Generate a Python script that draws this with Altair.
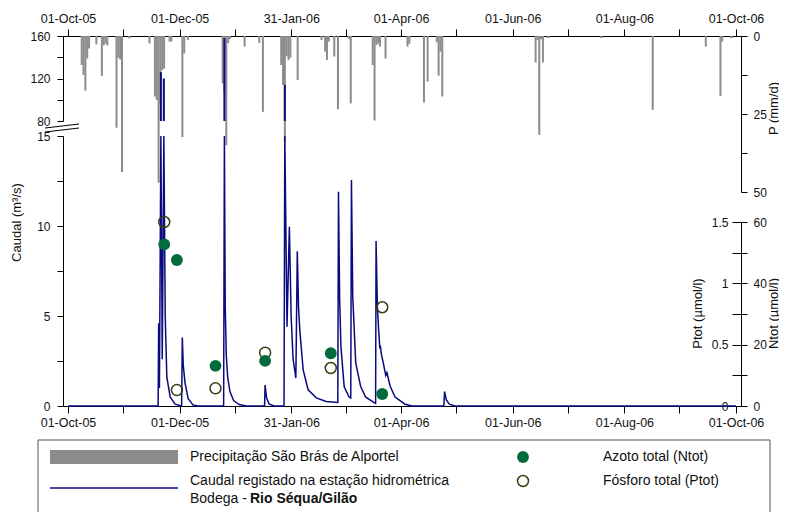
import altair as alt
import pandas as pd

FONT = "Liberation Sans"
W, H = 678, 370
GRAY = "#8c8c8c"
NAVY = "#0a0a80"
GREEN = "#006b3c"
OLIVE = "#3a3a10"

# ---------------- data ----------------
precip_dates = [
    "2005-10-08", "2005-10-09", "2005-10-10", "2005-10-11", "2005-10-12", "2005-10-16",
    "2005-10-19", "2005-10-20", "2005-10-21", "2005-10-22", "2005-10-27", "2005-10-28",
    "2005-10-29", "2005-10-30", "2005-11-03", "2005-11-14", "2005-11-17", "2005-11-18",
    "2005-11-19", "2005-11-20", "2005-11-21", "2005-11-22", "2005-11-25", "2005-11-26",
    "2005-12-02", "2005-12-03", "2005-12-05", "2005-12-24", "2005-12-25", "2005-12-26",
    "2005-12-27", "2005-12-28", "2006-01-05", "2006-01-13", "2006-01-15", "2006-01-25",
    "2006-01-26", "2006-01-27", "2006-01-28", "2006-01-29", "2006-01-30", "2006-02-03",
    "2006-02-16", "2006-02-18", "2006-02-19", "2006-02-20", "2006-02-23", "2006-02-25",
    "2006-03-03", "2006-03-04", "2006-03-16", "2006-03-17", "2006-03-18", "2006-03-19",
    "2006-03-20", "2006-03-23", "2006-04-04", "2006-04-05", "2006-04-13", "2006-04-15",
    "2006-04-20", "2006-04-21", "2006-04-22", "2006-04-23", "2006-06-13", "2006-06-14",
    "2006-06-15", "2006-06-16", "2006-06-17", "2006-06-20", "2006-07-19", "2006-08-16",
    "2006-09-14", "2006-09-22", "2006-09-23", "2006-09-28",
]
precip_mm = [
    9.3, 12.5, 17.5, 7.2, 4.0, 2.7,
    12.8, 3.0, 2.5, 3.0, 29.4, 7.0,
    7.5, 43.6, 0.8, 2.4, 19.4, 20.5,
    47.0, 21.6, 10.9, 10.4, 1.8, 1.8,
    32.4, 5.6, 1.3, 15.2, 18.2, 35.0,
    2.3, 1.0, 3.4, 2.2, 24.3, 9.3,
    15.7, 34.0, 6.5, 7.7, 7.0, 14.1,
    1.3, 5.0, 7.7, 1.8, 6.6, 23.5,
    1.0, 21.6, 9.3, 27.1, 2.9, 2.4,
    3.4, 7.2, 3.4, 2.5, 21.3, 14.6,
    2.0, 12.7, 5.0, 19.4, 8.5, 1.3,
    31.7, 1.0, 8.5, 0.7, 0.7, 23.7,
    3.4, 19.2, 1.8, 0.7,
]

flow_times = [
    "2005-10-01T00:00", "2005-11-19T06:00", "2005-11-19T13:00", "2005-11-19T23:00",
    "2005-11-20T18:00", "2005-11-21T12:00", "2005-11-22T09:00", "2005-11-23T03:00",
    "2005-11-24T00:00", "2005-11-25T20:00", "2005-11-28T12:00", "2005-12-02T02:00",
    "2005-12-02T11:00", "2005-12-02T23:00", "2005-12-03T22:00", "2005-12-05T16:00",
    "2005-12-08T09:00", "2005-12-11T00:00", "2005-12-25T01:00", "2005-12-25T11:00",
    "2005-12-25T22:00", "2005-12-26T12:00", "2005-12-27T06:00", "2005-12-28T12:00",
    "2005-12-30T12:00", "2006-01-02T12:00", "2006-01-06T12:00", "2006-01-16T10:00",
    "2006-01-16T16:00", "2006-01-17T12:00", "2006-01-18T20:00", "2006-01-21T12:00",
    "2006-01-27T01:00", "2006-01-27T11:00", "2006-01-28T16:00", "2006-01-29T23:00",
    "2006-01-30T22:00", "2006-02-01T00:00", "2006-02-02T12:00", "2006-02-03T07:00",
    "2006-02-03T23:00", "2006-02-04T16:00", "2006-02-06T12:00", "2006-02-09T05:00",
    "2006-02-13T16:00", "2006-02-19T01:00", "2006-02-25T10:00", "2006-02-25T19:00",
    "2006-02-26T10:00", "2006-02-27T03:00", "2006-02-28T22:00", "2006-03-03T14:00",
    "2006-03-04T12:00", "2006-03-04T21:00", "2006-03-05T14:00", "2006-03-07T05:00",
    "2006-03-09T21:00", "2006-03-12T14:00", "2006-03-17T01:00", "2006-03-18T02:00",
    "2006-03-18T08:00", "2006-03-19T01:00", "2006-03-19T18:00", "2006-03-20T09:00",
    "2006-03-20T16:00", "2006-03-21T05:00", "2006-03-22T11:00", "2006-03-23T15:00",
    "2006-03-24T06:00", "2006-03-26T01:00", "2006-03-28T17:00", "2006-04-03T03:00",
    "2006-04-06T21:00", "2006-04-24T09:00", "2006-04-24T18:00", "2006-04-25T17:00",
    "2006-04-27T08:00", "2006-04-30T12:00", "2006-10-01T00:00",
]
flow_m3s = [
    0.0, 0.0, 4.6, 1.0,
    126.0, 2.6, 120.0, 5.0,
    1.6, 0.5, 0.1, 0.0,
    3.8, 2.3, 1.3, 0.4,
    0.05, 0.0, 0.0, 158.0,
    5.5, 2.8, 1.6, 0.8,
    0.3, 0.08, 0.0, 0.0,
    1.17, 0.45, 0.12, 0.0,
    0.0, 114.0, 4.4, 9.96,
    5.0, 2.6, 1.55, 8.6,
    5.5, 4.2, 2.0, 0.9,
    0.45, 0.25, 0.2, 11.9,
    6.0, 3.3, 1.07, 0.5,
    0.45, 12.55, 6.1, 2.4,
    1.1, 0.5, 0.2, 0.15,
    9.17, 5.5, 4.2, 3.2,
    3.35, 2.9, 2.3, 1.7,
    1.85, 1.1, 0.5, 0.1,
    0.0, 0.0, 0.8, 0.35,
    0.1, 0.0, 0.0,
]

sample_times = ["2005-11-22T14:00", "2005-11-29T12:00", "2005-12-20T14:00",
                "2006-01-16T17:00", "2006-02-21T14:00", "2006-03-21T17:00"]
ntot_umol = [52.7, 47.6, 13.1, 14.7, 17.2, 3.9]
ptot_umol = [1.50, 0.13, 0.144, 0.435, 0.31, 0.805]

tick_dates = ["2005-10-01", "2005-10-31", "2005-12-01", "2005-12-31", "2006-01-31",
              "2006-03-02", "2006-04-01", "2006-05-01", "2006-06-01", "2006-07-01",
              "2006-08-01", "2006-08-31", "2006-10-01"]
tick_labels = ["01-Oct-05", "01-Dec-05", "31-Jan-06", "01-Apr-06",
               "01-Jun-06", "01-Aug-06", "01-Oct-06"]

legend_texts = ["Precipitação São Brás de Alportel",
                "Caudal registado na estação hidrométrica",
                "Bodega -", "Rio Séqua/Gilão",
                "Azoto total (Ntot)", "Fósforo total (Ptot)"]


def dt(s):
    y, m, d = (int(v) for v in s.split("-"))
    return alt.DateTime(year=y, month=m, date=d)


pdf = pd.DataFrame({"t": [d + "T12:00" for d in precip_dates], "p": precip_mm})
qdf = pd.DataFrame({"t": flow_times, "q": flow_m3s})
sdf = pd.DataFrame({"t": sample_times, "n": ntot_umol, "p": ptot_umol})
one = pd.DataFrame({"k": [0]})

xs = alt.Scale(domain=[dt(tick_dates[0]), dt(tick_dates[-1])], nice=False)
arr = "[" + ",".join("'%s'" % l for l in tick_labels) + "]"
lx = ("indexof(%s, timeFormat(datum.value, '%%d-%%b-%%y')) >= 0 ? "
      "timeFormat(datum.value, '%%d-%%b-%%y') : ''") % arr
xkw = dict(values=[dt(s) for s in tick_dates], labelExpr=lx, tickSize=7,
           labelFlush=False, labelOverlap=False, labelAlign="center", labelBound=False,
           title=None, grid=False, labelFontSize=12.5)
top_axis = alt.Axis(orient="top", labelPadding=4, **xkw)
bot_axis = alt.Axis(orient="bottom", labelPadding=3, **xkw)


def X(axis=None):
    return alt.X("t:T", scale=xs, axis=axis, title=None)


title_kw = dict(titleAngle=270, titleBaseline="middle", titleAlign="center",
                titleFontSize=13, titleFontWeight="normal")

# precipitation (hanging bars)
p_axis = alt.Axis(orient="right", values=[0, 12.5, 25, 37.5, 50],
                  labelExpr="datum.value % 25 == 0 ? toString(datum.value) : ''",
                  tickSize=6, labelPadding=6, labelOverlap=False, grid=False,
                  title="P (mm/d)", titleX=32, titleY=72, **title_kw)
bars = alt.Chart(pdf).mark_bar(color=GRAY, width=2).encode(
    x=X(top_axis),
    y=alt.Y("p:Q", scale=alt.Scale(domain=[0, 50], range=[0, 156], nice=False, zero=False),
            axis=p_axis),
)

# flow - upper (broken) part
up_axis = alt.Axis(orient="left", values=[80, 100, 120, 140, 160],
                   labelExpr="datum.value % 40 == 0 ? toString(datum.value) : ''",
                   tickSize=6, labelPadding=7, labelOverlap=False, grid=False, title=None)
upper = alt.Chart(qdf).transform_filter("datum.q > 80").transform_calculate(lo="80").mark_rule(
    color=NAVY, strokeWidth=2).encode(
    x=X(),
    y=alt.Y("q:Q", scale=alt.Scale(domain=[80, 160], range=[85, 0], nice=False, zero=False),
            axis=up_axis),
    y2="lo:Q",
)

# flow - lower part
lo_axis = alt.Axis(orient="left", values=[0, 2.5, 5, 7.5, 10, 12.5, 15],
                   labelExpr="datum.value % 5 == 0 ? toString(datum.value) : ''",
                   tickSize=6, labelPadding=7, labelOverlap=False, grid=False,
                   title="Caudal (m³/s)", titleX=-47, titleY=186, **title_kw)
lower = alt.Chart(qdf).mark_line(color=NAVY, strokeWidth=1.5).encode(
    x=X(bot_axis),
    y=alt.Y("q:Q", scale=alt.Scale(domain=[0, 15], range=[H, 100], clamp=True, nice=False, zero=False),
            axis=lo_axis),
)

# Ptot (hollow) and Ntot (filled)
pt_axis = alt.Axis(orient="left", offset=-W, values=[0, 0.25, 0.5, 0.75, 1, 1.25, 1.5],
                   labelExpr="datum.value % 0.5 == 0 ? toString(datum.value) : ''",
                   tickSize=9, labelPadding=4, labelOverlap=False, grid=False,
                   title="Ptot (µmol/l)", titleX=-44, titleY=277, **title_kw)
ptot = alt.Chart(sdf).mark_point(shape="circle", filled=False, size=120, color=OLIVE,
                                 strokeWidth=1.5, opacity=1).encode(
    x=X(),
    y=alt.Y("p:Q", scale=alt.Scale(domain=[0, 1.5], range=[H, 186], nice=False, zero=False),
            axis=pt_axis),
)
nt_axis = alt.Axis(orient="right", values=[0, 10, 20, 30, 40, 50, 60],
                   labelExpr="datum.value % 20 == 0 ? toString(datum.value) : ''",
                   tickSize=6, labelPadding=6, labelOverlap=False, grid=False,
                   title="Ntot (µmol/l)", titleX=32, titleY=277, **title_kw)
ntot = alt.Chart(sdf).mark_circle(size=140, color=GREEN, opacity=1).encode(
    x=X(),
    y=alt.Y("n:Q", scale=alt.Scale(domain=[0, 60], range=[H, 186], nice=False, zero=False),
            axis=nt_axis),
)

# axis break marks
brk1 = alt.Chart(one).mark_rule(color="black", strokeWidth=1).encode(
    x=alt.value(-18), x2=alt.value(16), y=alt.value(92), y2=alt.value(88))
brk2 = alt.Chart(one).mark_rule(color="black", strokeWidth=1).encode(
    x=alt.value(-18), x2=alt.value(16), y=alt.value(96), y2=alt.value(92))

# manual legend
box = alt.Chart(one).mark_rect(fillOpacity=0, stroke="#555", strokeWidth=1).encode(
    x=alt.value(-25), x2=alt.value(707), y=alt.value(404), y2=alt.value(500))
sw_rect = alt.Chart(one).mark_rect(color=GRAY).encode(
    x=alt.value(-13), x2=alt.value(115), y=alt.value(414), y2=alt.value(428))
sw_line = alt.Chart(one).mark_rule(color=NAVY, strokeWidth=1.5).encode(
    x=alt.value(-13), x2=alt.value(115), y=alt.value(452))
sw_n = alt.Chart(one).mark_circle(size=140, color=GREEN, opacity=1).encode(
    x=alt.value(460), y=alt.value(421))
sw_p = alt.Chart(one).mark_point(shape="circle", filled=False, size=120, color=OLIVE,
                                 strokeWidth=1.5, opacity=1).encode(
    x=alt.value(460), y=alt.value(445))


def txt(s, x, y, bold=False):
    return alt.Chart(one).mark_text(text=s, align="left", baseline="middle", font=FONT,
                                    fontSize=14, color="#111",
                                    fontWeight="bold" if bold else "normal").encode(
        x=alt.value(x), y=alt.value(y))


texts = [
    txt(legend_texts[0], 127, 421),
    txt(legend_texts[1], 127, 445),
    txt(legend_texts[2], 127, 463),
    txt(legend_texts[3], 187, 463, bold=True),
    txt(legend_texts[4], 540, 421),
    txt(legend_texts[5], 540, 445),
]

chart = alt.layer(
    bars, upper, lower, ptot, ntot, brk1, brk2, box, sw_rect, sw_line, sw_n, sw_p, *texts
).resolve_scale(y="independent").resolve_axis(x="independent", y="independent").properties(
    width=W, height=H,
    autosize=alt.AutoSizeParams(type="none"),
    padding={"left": 55, "top": 28, "right": 38, "bottom": 106},
).configure_view(strokeWidth=0).configure_axis(
    labelFont=FONT, titleFont=FONT, labelColor="#111", titleColor="#111",
    domainColor="#000", tickColor="#000", labelFontSize=12, domainWidth=1, tickWidth=1,
)

chart.save("out.html", embed_options={"renderer": "svg", "actions": False})
